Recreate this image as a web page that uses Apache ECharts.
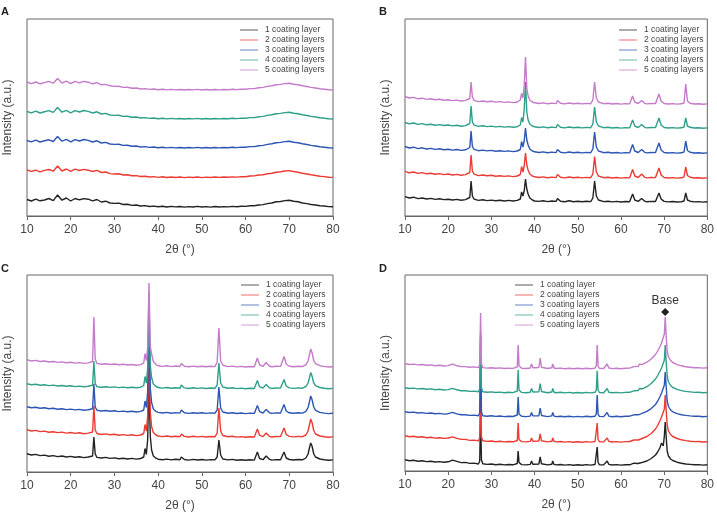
<!DOCTYPE html>
<html>
<head>
<meta charset="utf-8">
<script src="https://cdn.jsdelivr.net/npm/echarts@6/dist/echarts.min.js"></script>
<style>
  html, body { margin: 0; padding: 0; background: #fff; }
  #chart { width: 717px; height: 520px; }
</style>
</head>
<body>
<div id="chart"></div>
<script>
// legend entries, one per coating count
const layerNames = ["1 coating layer", "2 coating layers", "3 coating layers", "4 coating layers", "5 coating layers"];
const panelLetters = ["A", "B", "C", "D"];

// ---- panel A : 2theta grid and intensities (stacked, a.u.)
const xA = [10,11,12,13,14,15,16,17,18,19,20,21,22,23,24,25,26,27,28,29,30,31,32,33,34,35,36,37,38,39,
  40,41,42,43,44,45,46,47,48,49,50,51,52,53,54,55,56,57,58,59,60,61,62,63,64,65,66,67,68,69,70,71,72,73,74,75,76,77,78,79,80];
const a1 = [16.5,15,16.8,15.2,16,17.5,15.4,21,15.8,18, 15,17.5,16.2,17.4,16.8,15.2,16.5,14,14.8,13,
  12.6,12.8,11.5,11.8,10.6,11,10,10.4,9.5,9.9, 9.2,9.8,9,9.6,9.1,9.5,8.9,9.4,9,9.6,
  9,9.4,8.9,9.5,9,9.4,9.1,9.6,9.3,9.8, 9.6,10.3,10.2,11,11.4,12.4,13,14.2,14.5,15.4,
  15.8,14.8,14.2,13,12.4,11.5,11,10.2,10,9.4, 9.2];
const a2 = [46,44.6,45.8,44.2,45.6,46.5,44.8,50,45,47, 44.6,46.8,45.5,46.6,45.8,44.5,45.6,43.5,44,42.4,
  42,42.2,41,41.2,40.2,40.4,39.5,39.8,39,39.4, 38.6,39.2,38.5,39,38.5,39,38.4,38.9,38.5,39,
  38.4,38.9,38.5,39,38.6,39,38.7,39.1,38.9,39.4, 39.3,40,40.1,41,41.3,42.2,42.8,43.8,44.2,45,
  45.4,44.5,43.8,42.7,42,41.2,40.5,39.8,39.4,38.8, 38.6];
const a3 = [75.5,74.2,75.8,74,75.2,76.2,74.5,79.5,74.8,76.6, 74.2,76.4,75,76.5,75.6,74,75.2,73,73.6,72,
  71.6,71.8,70.6,70.8,69.8,70,69,69.4,68.6,69, 68.3,68.8,68.1,68.6,68.1,68.5,68,68.5,68.1,68.6,
  68,68.5,68,68.5,68.1,68.5,68.2,68.7,68.4,68.9, 68.8,69.4,69.4,70.3,70.6,71.6,72.2,73.2,73.6,74.4,
  74.8,73.8,73.2,72.2,71.5,70.6,70,69.2,68.8,68.2, 68];
const a4 = [104.5,103.2,104.8,103,104.2,105.4,103.6,108.5,103.8,105.6, 103.2,105.4,104,105.5,104.6,103,104.2,102,102.6,101,
  100.6,100.8,99.6,99.8,98.8,99,98,98.4,97.6,98, 97.3,97.8,97.1,97.6,97.1,97.5,97,97.5,97.1,97.6,
  97,97.5,97,97.5,97.1,97.5,97.2,97.7,97.4,97.9, 97.8,98.4,98.4,99.3,99.6,100.6,101.2,102.2,102.6,103.4,
  103.8,102.8,102.2,101.2,100.5,99.6,99,98.2,97.8,97.2, 97];
const a5 = [134,132.4,134,132.2,133.4,134.6,132.8,137.5,133,134.8, 132.4,134.6,133.2,134.6,133.8,132.2,133.4,131.2,131.6,130.2,
  129.6,129.8,128.6,128.8,127.8,128,127,127.4,126.6,127, 126.3,126.8,126.1,126.6,126.1,126.5,126,126.5,126.1,126.6,
  126,126.5,126,126.5,126.1,126.5,126.2,126.7,126.4,126.9, 126.8,127.4,127.4,128.3,128.6,129.6,130.2,131.2,131.6,132.4,
  132.8,131.8,131.2,130.2,129.5,128.6,128,127.2,126.8,126.2, 126];

// ---- panel B
const xB = [10,11,12,13,14,15,16,17,18,19,20,21,22,23,24,
  25,25.3,25.6,26,
  27,28,29,30,31,32,33,34,35,36,
  36.7,37.0,37.3,37.6,37.9,38.2,38.5,38.9,39.5,
  40,41,42,43,44,45,45.3,
  46,47,48,49,50,51,52,53,
  53.5,53.9,54.3,54.8,55.2,
  56,57,58,59,60,61,62,
  62.7,63.2,64,64.8,65.5,
  66,67,68,68.8,69.3,
  70,71,72,73,74,
  74.6,75.0,75.4,
  76,77,78,79,80];
const b1 = [19.4,18,18.8,17.4,18,17,17.6,16.6,17.2,16.4,16.8,16,16.6,15.8,16.4,
  18.5,35,20,16.8,
  15.6,16.2,15.4,15.9,15.2,15.7,15,15.6,15,15.6,
  17,24,20,25,37,27,22,18,16,
  15,14.6,15.2,14.4,15,14.6,17.5,
  14.8,14.2,15.2,14.3,14.8,14.2,14.7,14.4,
  18,35,20,16,15.6,
  14.4,14.8,14.1,14.6,14,14.5,14.2,
  22,16,14.6,17.5,14.8,
  14.2,14.6,14.5,23,17,
  14.6,14.1,14.5,14,14.3,
  15,23,16,
  14.8,14.1,14.4,13.9,14.2];
const b2 = [44.6,43.2,44,42.6,43.4,42.2,42.8,41.8,42.4,41.4,42,41,41.6,40.8,41.4,
  43.5,61,45,41.8,
  40.4,41,40.2,40.7,39.8,40.3,39.6,40.1,39.4,40,
  41.5,49.5,44,50,63,51,46,42,40,
  39.2,38.5,39.1,38.3,38.9,38.4,41.5,
  38.7,38.1,39,38.2,38.7,38.1,38.6,38.3,
  42,59.5,44,40,39.4,
  38.3,38.8,38,38.5,37.9,38.4,38.1,
  46.5,40,38.5,42,38.7,
  38.1,38.5,38.4,48,41,
  38.5,38,38.4,37.9,38.2,
  39,49,40.5,
  38.7,38,38.3,37.8,38.1];
const b3 = [69.5,68,68.8,67.4,68.2,67,67.6,66.6,67.2,66.3,66.8,65.9,66.5,65.6,66.2,
  68.5,85,69.5,66.6,
  65.3,65.9,65.1,65.6,64.8,65.3,64.6,65.1,64.4,65,
  66.5,74.5,69,75,88,76,71,67,65,
  64.2,63.5,64.1,63.3,63.9,63.4,66.5,
  63.7,63.1,64,63.2,63.7,63.1,63.6,63.3,
  67,84,69,65,64.4,
  63.3,63.8,63,63.5,62.9,63.4,63.1,
  71.5,65,63.5,66.5,63.7,
  63.1,63.5,63.4,73,66,
  63.5,63,63.4,62.9,63.2,
  64,75,65.5,
  63.7,63,63.3,62.8,63.1];
const b4 = [93.5,92.2,93,91.6,92.4,91.2,91.8,90.8,91.4,90.5,91,90.1,90.7,89.8,90.4,
  92.5,110,94,90.8,
  89.6,90.2,89.4,89.9,89.1,89.6,88.9,89.4,88.7,89.3,
  91,98.5,94,106,134,104,96,92,90,
  89.2,88.5,89.1,88.3,88.9,88.4,91.5,
  88.7,88.1,89,88.2,88.7,88.1,88.6,88.3,
  92,109,94,90,89.4,
  88.3,88.8,88,88.5,87.9,88.4,88.1,
  96,90,88.5,91.5,88.7,
  88.1,88.5,88.4,98,91,
  88.5,88,88.4,87.9,88.2,
  89,98,90,
  88.7,88,88.3,87.8,88.1];
const b5 = [119.5,118,118.6,117.2,117.8,116.6,117.2,116.2,116.8,115.8,116.3,115.4,115.9,115,115.6,
  117.5,134,119,115.6,
  114.4,115,114.2,114.7,113.9,114.4,113.6,114.1,113.4,114,
  116,122.5,118,130,159,128,120,116,114,
  113.2,112.5,113.1,112.3,112.9,112.4,115.5,
  112.7,112.1,113,112.2,112.7,112.1,112.6,112.3,
  116,134,118,114,113.4,
  112.3,112.8,112,112.5,111.9,112.4,112.1,
  120,114,112.5,115.5,112.7,
  112.1,112.5,112.4,122,115,
  112.5,112,112.4,111.9,112.2,
  113,132,115,
  112.7,112,112.3,111.8,112.1];

// ---- panel C
const xC = [10,11,12,13,14,15,16,17,18,19,20,21,22,23,24,
  25,25.3,25.6,26,
  27,28,29,30,31,32,33,34,35,36,
  36.7,37.0,37.3,37.6,37.9,38.2,38.5,38.9,39.5,
  40,41,42,43,44,45,45.3,
  46,47,48,49,50,51,52,53,
  53.5,53.9,54.3,54.8,55.2,
  56,57,58,59,60,61,62,
  62.7,63.2,64,64.7,65.5,
  66,67,68,68.8,69.3,
  70,71,72,73,
  73.8,74.3,74.6,74.9,75.2,75.6,
  76,77,78,79,80];
const c1 = [18.2,17,17.6,16.4,16.9,15.8,16.4,15.4,16,15,15.6,14.7,15.3,14.4,15,
  16,35,18,14.6,
  14,14.6,13.6,14.1,13.3,13.8,13,13.6,12.9,13.5,
  15,23.5,17.5,32,92,36,22,16,13.8,
  12.8,12.3,12.9,12.1,12.7,12.2,15,
  12.5,11.9,12.6,12,12.5,11.9,12.4,12.1,
  15,32,17,13,12.6,
  12.1,12.6,11.8,12.3,11.7,12.2,11.9,
  20,13.5,12.3,16,12.6,
  11.9,12.4,12.3,20,14,
  12.5,12,12.5,12.2,
  14,18,24,29,26,18,
  15,13,12.3,11.8,12.1];
const c2 = [42.2,41,41.6,40.4,40.9,39.8,40.3,39.4,39.9,38.9,39.5,38.6,39.2,38.3,38.9,
  40,66,42,38.5,
  37.5,38.1,37.2,37.7,36.8,37.4,36.6,37.2,36.4,37,
  38.5,47.5,41,56,125,60,45.5,39.5,37,
  36,35.4,36,35.2,35.8,35.3,38,
  35.6,35,35.7,35.1,35.6,35,35.5,35.2,
  39,64,41,36.5,35.8,
  35.2,35.7,34.9,35.4,34.8,35.3,35,
  43,36.8,35.4,39,35.6,
  35,35.5,35.4,44,37.5,
  35.6,35.1,35.6,35.3,
  37,41,47,53,49.5,41.5,
  38,36,35.3,34.8,35.1];
const c3 = [65.3,64.2,64.8,63.7,64.2,63.2,63.7,62.8,63.3,62.4,62.9,62.1,62.6,61.8,62.3,
  63.3,88,65,61.8,
  61,61.5,60.7,61.2,60.4,60.9,60.2,60.7,60,60.6,
  62,71,64.5,80,165,84,69.5,63,60.6,
  59.6,59,59.6,58.8,59.4,58.9,62,
  59.2,58.6,59.3,58.7,59.2,58.6,59.1,58.8,
  62,85,64,60,59.4,
  58.8,59.3,58.5,59,58.4,58.9,58.6,
  66.5,60.4,59,62.6,59.2,
  58.6,59.1,59,67.5,61,
  59.2,58.7,59.2,58.9,
  60.6,64.5,70,76,72.5,65,
  61.6,59.6,58.9,58.4,58.7];
const c4 = [88.3,87.2,87.8,86.8,87.3,86.4,86.9,86,86.5,85.7,86.2,85.4,85.9,85.2,85.7,
  86.7,111,88.5,85.3,
  84.8,85.3,84.6,85.1,84.4,84.9,84.3,84.8,84.2,84.8,
  86.5,95.5,89,104,179,107,94.5,88,85.5,
  84.5,83.9,84.5,83.7,84.3,83.8,87,
  84.1,83.5,84.2,83.6,84.1,83.5,84,83.7,
  87,109,89,85,84.3,
  83.7,84.2,83.4,83.9,83.3,83.8,83.5,
  91.5,85.3,83.9,87.6,84.1,
  83.5,84,83.9,92.5,86,
  84.1,83.6,84.1,83.8,
  85.5,89,94,99.5,96,89,
  86.4,84.5,83.8,83.3,83.6];
const c5 = [112.3,111,111.6,110.5,111,110,110.5,109.6,110.1,109.2,109.7,108.9,109.4,108.6,109.1,
  110.5,155,113,108.6,
  107.8,108.3,107.5,108,107.2,107.7,107,107.5,106.8,107.4,
  109,118.5,111.5,124,189,126,118,110.5,107.5,
  106.2,105.6,106.2,105.4,106,105.5,108.5,
  105.8,105.2,105.9,105.3,105.8,105.2,105.7,105.4,
  110,144,111,106.8,106,
  105.4,105.9,105.1,105.6,105,105.5,105.2,
  114,107.2,105.6,109.5,105.8,
  105.2,105.7,105.6,115.5,108,
  105.8,105.3,105.8,105.5,
  107.2,111,117,123,119.5,111.5,
  108.4,106.3,105.6,105,105.3];

// ---- panel D
const xD = [10,11,12,13,14,15,16,17,18,19,20,21,22,23,24,25,26,27,
  27.3,27.5,27.7,
  28,29,30,31,32,33,34,35,36,
  36.2,36.4,
  37,38,39,39.3,39.6,40,41,41.3,41.6,42,43,44,44.2,44.5,
  45,46,47,48,49,50,51,52,53,54,
  54.3,54.5,54.7,55,56,56.8,57.2,
  58,59,60,61,62,63,64,
  64.3,64.6,65,66,67,68,
  68.5,69,69.4,69.8,70.05,70.25,70.45,70.7,
  71,71.5,72,
  73,74,75,76,77,78,79,80];
const d1 = [11.2,10.3,10.7,9.8,10.2,9.4,9.8,9,9.4,8.7,9.2,10.8,9.6,8.4,8.6,7.6,7.9,7,
  10,55,11,
  7.2,6.6,7,6.3,6.7,6.1,6.5,6.2,7.5,
  20,8.5,
  6.4,6.1,6.6,10,6.8,6.3,7,14,7.2,6.4,6.1,6.8,10,6.6,
  6.1,6.5,5.9,6.4,5.8,6.3,5.8,6.4,5.9,6.5,
  8.5,24,8.5,6.3,6.1,10,6.6,
  6,6.4,5.9,6.3,6.2,7.8,7.5,
  9.5,8.2,8.6,10,12.5,16,
  19,23,28,25,35,49,36,20,
  15,12,10.5,
  8.8,7.8,7,6.6,6.2,6.4,5.9,6.2];
const d2 = [35.2,34.3,34.7,33.8,34.2,33.3,33.7,32.9,33.3,32.6,33,34.2,32.6,31.6,31.6,30.6,30.9,30.1,
  33,89,34,
  30.2,29.6,30,29.3,29.7,29.1,29.5,29.2,30.5,
  48,31.5,
  29.4,29.1,29.6,33,29.8,29.3,30,37,30.2,29.4,29.1,29.8,33,29.6,
  29.1,29.5,28.9,29.4,28.8,29.3,28.8,29.4,28.9,29.5,
  31.5,48,31.5,29.3,29.1,33,29.6,
  29,29.4,28.9,29.4,29.5,31,31,
  33,32,32.5,34.5,37.5,42,
  45.5,50,54,52,62,76,62,46,
  40,36.5,34.5,
  32.5,31.2,30.4,29.8,29.4,29.5,29,29.3];
const d3 = [59.3,58.5,58.9,58,58.4,57.6,58,57.2,57.6,56.9,57.3,58.6,57.1,56.2,56.3,55.6,55.9,55.2,
  58,135,59,
  55.3,54.8,55.2,54.6,55,54.4,54.8,54.5,56,
  74,57,
  54.7,54.4,54.9,58.5,55.1,54.6,55.3,63,55.5,54.7,54.4,55.1,58.5,54.9,
  54.4,54.8,54.2,54.7,54.1,54.6,54.1,54.7,54.2,54.8,
  57,76,57,54.6,54.4,58.5,54.9,
  54.3,54.7,54.2,54.7,54.8,56.2,56.2,
  58.2,57.2,57.8,59.6,62.4,66.5,
  69.8,74,78,76,86,99,86,70,
  64.5,61,59.2,
  57.4,56.3,55.6,55.1,54.7,54.8,54.3,54.6];
const d4 = [83.3,82.5,82.9,82.1,82.5,81.7,82.1,81.3,81.7,81,81.4,82.7,81.2,80.3,80.3,79.6,79.9,79.2,
  82,138,83,
  79.2,78.7,79.1,78.5,78.9,78.3,78.7,78.4,80,
  101,81,
  78.6,78.3,78.8,82.5,79,78.5,79.3,87.5,79.5,78.6,78.3,79,82.5,78.8,
  78.3,78.7,78.1,78.6,78,78.5,78,78.6,78.1,78.7,
  81,100,81,78.5,78.3,82.5,78.8,
  78.2,78.6,78.1,78.6,78.7,80.2,80.4,
  82.5,81.5,82.2,84.3,87.5,92,
  95.5,99.5,103,101,111,126,111,95,
  89,85.5,83.5,
  81.6,80.4,79.6,79.1,78.6,78.7,78.2,78.5];
const d5 = [107.3,106.5,106.9,106.1,106.5,105.7,106.1,105.3,105.7,105,105.4,106.8,105.3,104.4,104.4,103.8,104.1,103.4,
  106,158,107,
  103.4,102.9,103.3,102.7,103.1,102.5,102.9,102.6,104.2,
  126,105.2,
  102.8,102.5,103,107,103.2,102.7,103.5,113,103.7,102.8,102.5,103.2,107,103,
  102.5,102.9,102.3,102.8,102.2,102.7,102.2,102.8,102.3,102.9,
  105.3,126,105.3,102.7,102.5,107,103,
  102.4,102.8,102.3,102.8,102.9,104.4,104.7,
  106.8,105.8,106.6,108.8,112,116.5,
  120,124,128,126,137,154,137,120,
  114,110.5,108.5,
  106.4,105.2,104.3,103.8,103.3,103.4,102.9,103.2];

const panels = [
  { x: xA, layers: [a1, a2, a3, a4, a5] },
  { x: xB, layers: [b1, b2, b3, b4, b5] },
  { x: xC, layers: [c1, c2, c3, c4, c5] },
  { x: xD, layers: [d1, d2, d3, d4, d5] },
];

// styling / layout
const layerColors = ["#222222", "#ec3b33", "#2d55b4", "#2e9f8a", "#c47bc9"];
const font = "Liberation Sans";
const gridBoxes = [
  { left: 27, top: 19, width: 306, height: 197 },
  { left: 405, top: 19, width: 306, height: 197 },
  { left: 27, top: 275, width: 306, height: 197 },
  { left: 405, top: 275, width: 306, height: 196 },
];
const legendPos = [
  { left: 240, top: 25 },
  { left: 619, top: 25 },
  { left: 241, top: 280 },
  { left: 515, top: 280 },
];
const letterPos = [[1, 6], [379, 6], [1, 263], [379, 263]];

panels.forEach((p, i) => p.layers.forEach((ys, k) => {
  if (ys.length !== p.x.length) throw new Error("panel " + i + " layer " + k + ": " + ys.length + " vs " + p.x.length);
}));

const series = [];
panels.forEach((p, i) => {
  p.layers.forEach((ys, k) => {
    const s = {
      type: "line",
      name: layerNames[k],
      xAxisIndex: i,
      yAxisIndex: i,
      data: p.x.map((x, j) => [x, ys[j]]),
      symbol: "none",
      silent: true,
      z: 2 + k,
      lineStyle: { width: 1.4, color: layerColors[k] },
      itemStyle: { color: layerColors[k] },
    };
    if (i === 3 && k === 4) {
      s.markPoint = {
        symbol: "diamond",
        symbolSize: 8,
        itemStyle: { color: "#222" },
        label: { show: true, position: "top", distance: 1, formatter: "Base", color: "#333", fontSize: 12, fontFamily: font },
        data: [{ coord: [70.25, 159] }],
      };
    }
    series.push(s);
  });
});

const chart = echarts.init(document.getElementById("chart"));
chart.setOption({
  animation: false,
  backgroundColor: "#fff",
  textStyle: { fontFamily: font },
  grid: gridBoxes.map(g => Object.assign({ show: true, borderColor: "#666", borderWidth: 1, containLabel: false }, g)),
  xAxis: gridBoxes.map((g, i) => ({
    gridIndex: i,
    type: "value",
    min: 10,
    max: 80,
    interval: 10,
    axisLine: { show: true, lineStyle: { color: "#666", width: 1 } },
    axisTick: { show: true, length: 4, lineStyle: { color: "#666" } },
    splitLine: { show: false },
    axisLabel: { fontSize: 12, color: "#444", margin: 8, fontFamily: font },
    name: "2θ (°)",
    nameLocation: "middle",
    nameGap: 28,
    nameTextStyle: { fontSize: 12, color: "#444", fontFamily: font },
  })),
  yAxis: gridBoxes.map((g, i) => ({
    gridIndex: i,
    type: "value",
    min: 0,
    max: g.height,
    axisLine: { show: false },
    axisTick: { show: false },
    axisLabel: { show: false },
    splitLine: { show: false },
    name: "Intensity (a.u.)",
    nameLocation: "middle",
    nameGap: 13,
    nameTextStyle: { fontSize: 12, color: "#444", fontFamily: font },
  })),
  legend: legendPos.map(pos => ({
    left: pos.left,
    top: pos.top,
    padding: 0,
    orient: "vertical",
    icon: "rect",
    itemWidth: 18,
    itemHeight: 1,
    itemGap: 0,
    selectedMode: false,
    data: layerNames,
    itemStyle: { opacity: 0.75 },
    textStyle: { fontSize: 8.5, lineHeight: 10, color: "#444", fontFamily: font, padding: [0, 0, 0, 2] },
  })),
  graphic: panelLetters.map((t, i) => ({
    type: "text",
    left: letterPos[i][0],
    top: letterPos[i][1],
    style: { text: t, font: "bold 11px " + font, fill: "#222" },
  })),
  series: series,
});
</script>
</body>
</html>
